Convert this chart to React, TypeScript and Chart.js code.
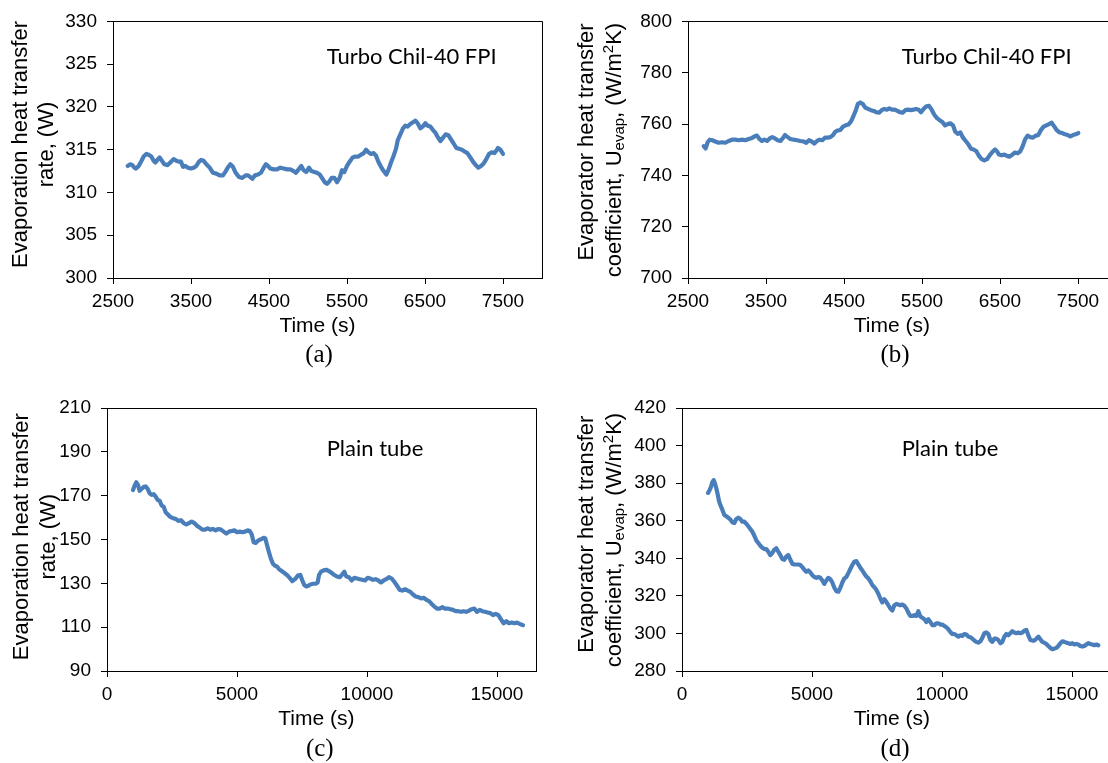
import React, { useEffect, useRef } from "react";
import { Chart, registerables } from "chart.js";

Chart.register(...registerables);

// ---------------- data ----------------
// (a) Turbo Chil-40 FPI — evaporation heat transfer rate (W)
const timeA = [
  2688, 2722, 2748, 2774, 2795, 2829, 2859, 2893, 2927, 2957,
  2991, 3021, 3043, 3077, 3098, 3128, 3158, 3201, 3244, 3278,
  3312, 3346, 3372, 3397, 3427, 3462, 3500, 3534, 3568, 3603,
  3628, 3662, 3697, 3739, 3782, 3825, 3867, 3910, 3940, 3970,
  4004, 4038, 4073, 4115, 4158, 4201, 4231, 4261, 4286, 4320,
  4359, 4397, 4432, 4461, 4487, 4517, 4560, 4603, 4645, 4688,
  4731, 4774, 4816, 4846, 4880, 4914, 4944, 4979, 5013, 5043,
  5081, 5115, 5150, 5179, 5214, 5244, 5274, 5303, 5338, 5372,
  5406, 5436, 5466, 5500, 5534, 5573, 5607, 5645, 5679, 5714,
  5744, 5774, 5808, 5842, 5872, 5902, 5936, 5970, 6004, 6034,
  6064, 6098, 6128, 6150, 6184, 6218, 6248, 6278, 6312, 6346,
  6376, 6406, 6440, 6470, 6504, 6534, 6568, 6603, 6632, 6662,
  6697, 6731, 6765, 6799, 6833, 6868, 6902, 6936, 6974, 7008,
  7043, 7081, 7115, 7150, 7184, 7218, 7252, 7286, 7320, 7355,
  7389, 7415, 7436, 7466, 7500,
];
const rateA = [
  313.1, 313.3, 313.2, 312.9, 312.8, 313.1, 313.6, 314.2, 314.5, 314.4,
  314.2, 313.7, 313.5, 313.9, 314.1, 313.7, 313.3, 313.2, 313.6, 313.9,
  313.7, 313.6, 313.6, 313.0, 313.1, 312.9, 312.8, 312.9, 313.1, 313.6,
  313.8, 313.7, 313.3, 312.9, 312.3, 312.2, 312.0, 312.0, 312.4, 312.9,
  313.3, 313.0, 312.3, 311.8, 311.7, 312.0, 312.0, 311.8, 311.6, 312.0,
  312.1, 312.3, 312.9, 313.3, 313.1, 312.8, 312.7, 312.7, 312.9, 312.8,
  312.7, 312.7, 312.5, 312.3, 312.7, 313.1, 312.6, 312.4, 312.9, 312.5,
  312.4, 312.3, 312.1, 311.7, 311.2, 311.0, 311.3, 311.7, 311.7, 311.2,
  311.7, 312.6, 312.4, 313.1, 313.6, 314.1, 314.2, 314.2, 314.4, 314.6,
  315.0, 314.7, 314.5, 314.6, 314.3, 313.6, 313.0, 312.5, 312.1, 312.7,
  313.5, 314.3, 315.1, 316.1, 316.8, 317.5, 317.8, 317.7, 318.0, 318.2,
  318.4, 318.1, 317.5, 317.7, 318.1, 317.8, 317.7, 317.3, 317.0, 316.5,
  316.0, 316.4, 316.8, 316.7, 316.2, 315.7, 315.2, 315.1, 315.0, 314.8,
  314.6, 314.1, 313.6, 313.2, 312.9, 313.1, 313.4, 313.9, 314.5, 314.7,
  314.6, 314.9, 315.2, 315.0, 314.5,
];

// (b) Turbo Chil-40 FPI — evaporator heat transfer coefficient (W/m2K)
const timeB = [
  2701, 2726, 2752, 2778, 2812, 2850, 2893, 2936, 2979, 3021,
  3064, 3107, 3150, 3192, 3235, 3278, 3321, 3355, 3385, 3415,
  3449, 3479, 3513, 3547, 3581, 3615, 3650, 3684, 3714, 3744,
  3778, 3812, 3855, 3897, 3940, 3983, 4017, 4051, 4085, 4120,
  4154, 4188, 4222, 4256, 4291, 4325, 4359, 4389, 4419, 4453,
  4487, 4521, 4556, 4590, 4624, 4654, 4679, 4709, 4739, 4773,
  4808, 4846, 4880, 4914, 4949, 4983, 5017, 5051, 5081, 5115,
  5150, 5184, 5218, 5252, 5286, 5321, 5355, 5389, 5423, 5457,
  5487, 5521, 5556, 5590, 5624, 5658, 5692, 5726, 5761, 5795,
  5829, 5863, 5897, 5927, 5957, 5991, 6026, 6060, 6094, 6128,
  6162, 6197, 6231, 6265, 6299, 6333, 6367, 6402, 6436, 6461,
  6487, 6521, 6556, 6590, 6624, 6658, 6692, 6726, 6761, 6791,
  6820, 6854, 6889, 6923, 6957, 6991, 7025, 7060, 7094, 7128,
  7162, 7197, 7231, 7265, 7299, 7333, 7368, 7402, 7436, 7470,
  7504,
];
const coefB = [
  751.4, 750.5, 752.9, 753.9, 753.7, 753.2, 752.7, 752.9, 752.7, 753.4,
  753.9, 753.9, 753.7, 753.9, 753.7, 754.2, 754.6, 755.2, 755.5, 754.2,
  753.4, 753.9, 753.4, 754.4, 754.9, 754.4, 753.7, 753.4, 754.4, 755.7,
  754.9, 754.2, 753.9, 753.7, 753.4, 753.2, 752.7, 753.7, 753.2, 752.4,
  753.4, 753.9, 753.7, 754.7, 754.7, 754.9, 755.7, 757.0, 757.5, 757.7,
  759.0, 759.5, 759.8, 761.0, 763.3, 765.6, 767.9, 768.4, 767.9, 766.4,
  765.9, 765.4, 765.1, 764.6, 764.4, 765.4, 765.9, 765.6, 766.1, 765.6,
  765.6, 765.1, 764.6, 764.4, 765.4, 765.6, 765.4, 765.6, 765.9, 765.6,
  764.6, 765.9, 766.9, 767.1, 765.6, 763.6, 762.3, 761.5, 760.8, 759.5,
  760.0, 760.3, 759.5, 757.0, 756.2, 756.7, 754.7, 753.4, 752.1, 750.4,
  750.1, 749.4, 747.6, 746.3, 745.8, 746.3, 747.8, 749.1, 750.1, 749.4,
  748.1, 747.8, 748.1, 747.6, 747.3, 748.1, 748.9, 748.6, 749.4, 751.4,
  753.9, 755.5, 754.9, 754.7, 755.5, 755.7, 757.7, 759.0, 759.5, 760.0,
  760.5, 759.0, 757.5, 756.7, 756.5, 756.0, 755.7, 755.2, 755.7, 756.0,
  756.5,
];

// (c) Plain tube — evaporation heat transfer rate (W)
const timeC = [
  1000, 1064, 1128, 1192, 1256, 1333, 1410, 1487, 1564, 1641,
  1718, 1795, 1872, 1949, 2026, 2102, 2179, 2256, 2333, 2436,
  2538, 2641, 2743, 2846, 2949, 3051, 3154, 3256, 3359, 3461,
  3564, 3667, 3769, 3872, 3974, 4077, 4179, 4282, 4384, 4487,
  4590, 4692, 4795, 4897, 5000, 5103, 5205, 5308, 5410, 5487,
  5564, 5641, 5718, 5795, 5872, 5949, 6026, 6090, 6154, 6231,
  6308, 6385, 6462, 6538, 6615, 6718, 6821, 6923, 7026, 7128,
  7231, 7333, 7436, 7513, 7590, 7667, 7744, 7821, 7923, 8026,
  8103, 8154, 8231, 8333, 8436, 8538, 8641, 8744, 8846, 8949,
  9051, 9128, 9205, 9308, 9410, 9513, 9615, 9718, 9820, 9923,
  10026, 10128, 10231, 10333, 10436, 10538, 10641, 10744, 10846, 10949,
  11051, 11154, 11256, 11359, 11462, 11564, 11667, 11769, 11872, 11974,
  12077, 12179, 12282, 12385, 12487, 12590, 12692, 12795, 12897, 13000,
  13103, 13205, 13308, 13410, 13513, 13615, 13718, 13820, 13923, 14026,
  14128, 14231, 14333, 14436, 14538, 14641, 14744, 14846, 14949, 15051,
  15154, 15256, 15359, 15462, 15564, 15667, 15769, 15872, 16000,
];
const rateC = [
  172.6, 174.6, 176.1, 174.9, 172.2, 173.1, 174.0, 174.2, 173.1, 171.1,
  170.4, 170.7, 169.6, 168.1, 167.6, 165.5, 164.9, 162.4, 161.5, 160.3,
  159.7, 159.4, 158.5, 158.8, 157.5, 156.9, 157.5, 158.2, 157.5, 156.3,
  155.4, 154.5, 154.5, 155.1, 154.5, 154.8, 154.2, 154.8, 154.5, 153.6,
  152.7, 153.6, 153.9, 154.2, 153.3, 153.6, 153.3, 153.6, 154.2, 153.9,
  152.4, 148.7, 148.4, 149.3, 149.9, 150.2, 150.8, 150.5, 147.5, 144.1,
  141.1, 138.9, 138.0, 137.7, 136.5, 135.6, 134.7, 133.8, 132.5, 131.0,
  131.9, 133.5, 133.8, 131.3, 129.2, 128.6, 128.9, 129.5, 129.8, 129.8,
  130.4, 133.8, 135.3, 135.9, 136.2, 135.6, 134.7, 133.8, 133.1, 132.8,
  134.1, 135.3, 133.1, 132.8, 131.3, 132.5, 132.2, 131.9, 131.6, 131.3,
  132.5, 132.2, 131.6, 131.9, 131.3, 130.4, 131.3, 131.9, 132.8, 132.2,
  130.7, 128.9, 127.0, 126.7, 127.3, 126.7, 126.1, 124.9, 124.0, 123.7,
  123.1, 123.4, 122.5, 121.9, 120.6, 119.4, 118.5, 118.5, 119.1, 118.5,
  118.5, 118.2, 117.9, 117.3, 117.3, 117.0, 117.3, 117.0, 117.6, 118.2,
  118.5, 117.0, 117.9, 117.3, 117.0, 116.7, 116.4, 115.5, 116.1, 115.5,
  113.6, 111.8, 112.7, 111.8, 112.1, 111.8, 112.1, 111.5, 110.9,
];

// (d) Plain tube — evaporator heat transfer coefficient (W/m2K)
const timeD = [
  1000, 1064, 1115, 1167, 1218, 1269, 1320, 1372, 1423, 1474,
  1551, 1628, 1705, 1782, 1859, 1936, 2013, 2090, 2167, 2244,
  2320, 2397, 2474, 2551, 2628, 2705, 2782, 2859, 2936, 3013,
  3090, 3167, 3243, 3320, 3397, 3474, 3551, 3628, 3705, 3782,
  3859, 3936, 4013, 4090, 4167, 4243, 4320, 4397, 4474, 4551,
  4628, 4705, 4782, 4859, 4936, 5013, 5090, 5167, 5243, 5320,
  5397, 5474, 5551, 5628, 5705, 5782, 5859, 5936, 6013, 6090,
  6167, 6243, 6320, 6397, 6474, 6551, 6628, 6705, 6782, 6859,
  6936, 7013, 7090, 7167, 7243, 7320, 7397, 7474, 7551, 7628,
  7705, 7782, 7859, 7936, 8013, 8090, 8167, 8244, 8320, 8397,
  8474, 8551, 8628, 8705, 8782, 8859, 8936, 9013, 9090, 9167,
  9244, 9320, 9397, 9474, 9551, 9628, 9705, 9782, 9859, 9936,
  10013, 10090, 10167, 10244, 10320, 10397, 10474, 10551, 10628, 10705,
  10782, 10859, 10936, 11013, 11090, 11167, 11244, 11321, 11397, 11474,
  11551, 11628, 11705, 11782, 11859, 11936, 12013, 12090, 12167, 12244,
  12321, 12397, 12474, 12551, 12628, 12705, 12782, 12859, 12936, 13013,
  13090, 13167, 13244, 13321, 13398, 13474, 13551, 13628, 13705, 13782,
  13859, 13936, 14013, 14090, 14167, 14244, 14321, 14398, 14474, 14551,
  14628, 14705, 14782, 14859, 14936, 15013, 15090, 15167, 15244, 15321,
  15398, 15474, 15551, 15628, 15705, 15782, 15859, 15936, 16013,
];
const coefD = [
  374.8, 376.4, 378.0, 380.5, 381.6, 379.8, 377.3, 374.1, 370.5, 368.4,
  365.9, 363.1, 362.4, 361.6, 360.6, 359.2, 358.8, 360.9, 361.6, 360.9,
  359.5, 359.5, 358.4, 357.0, 355.6, 354.2, 352.0, 349.5, 348.1, 346.7,
  345.6, 344.9, 344.9, 343.5, 341.7, 342.8, 344.6, 345.3, 343.5, 341.7,
  339.6, 339.2, 341.0, 341.7, 339.2, 337.1, 336.7, 336.7, 336.7, 336.4,
  335.3, 333.9, 332.8, 333.5, 332.5, 331.0, 330.0, 329.6, 330.0, 329.6,
  328.2, 326.4, 328.2, 329.6, 328.9, 327.1, 324.3, 322.5, 322.2, 324.3,
  327.1, 329.3, 330.0, 332.1, 334.3, 336.4, 338.2, 338.5, 336.7, 335.0,
  333.5, 331.8, 330.3, 329.3, 327.8, 325.7, 324.6, 323.2, 321.1, 318.6,
  316.5, 318.2, 316.8, 315.0, 313.3, 312.2, 315.0, 315.7, 315.4, 315.0,
  315.4, 314.7, 313.3, 311.1, 309.3, 309.3, 309.7, 309.3, 311.8, 309.0,
  308.3, 307.6, 306.1, 307.6, 306.1, 304.4, 304.4, 305.4, 305.4, 304.7,
  304.7, 304.0, 303.3, 302.2, 300.8, 299.7, 299.7, 299.0, 298.3, 299.0,
  298.7, 299.7, 299.4, 298.3, 298.0, 297.2, 296.2, 295.5, 295.1, 295.8,
  297.6, 300.1, 300.5, 299.7, 296.5, 295.5, 297.2, 297.2, 296.5, 294.8,
  295.5, 298.3, 299.7, 299.0, 300.1, 301.2, 300.5, 300.1, 300.5, 300.1,
  300.5, 301.5, 301.9, 299.0, 296.5, 296.2, 296.2, 297.2, 298.3, 296.9,
  295.5, 295.1, 294.4, 293.3, 292.3, 291.6, 291.9, 292.3, 293.3, 294.8,
  295.8, 295.5, 295.1, 294.8, 294.4, 294.8, 294.1, 294.4, 294.1, 293.3,
  293.0, 293.3, 294.1, 294.8, 294.4, 294.1, 293.7, 294.1, 293.7,
];

// tick labels
const xTicksTurbo = [2500, 3500, 4500, 5500, 6500, 7500];
const xTicksPlain = [0, 5000, 10000, 15000];
const yTicksA = [300, 305, 310, 315, 320, 325, 330];
const yTicksB = [700, 720, 740, 760, 780, 800];
const yTicksC = [90, 110, 130, 150, 170, 190, 210];
const yTicksD = [280, 300, 320, 340, 360, 380, 400, 420];

// texts
const xTitleText = "Time (s)";
type Seg = { t: string; s?: "sub" | "sup" };
const rateTitle: Seg[][] = [[{ t: "Evaporation heat transfer" }], [{ t: "rate, (W)" }]];
const coefTitle: Seg[][] = [
  [{ t: "Evaporator heat transfer" }],
  [{ t: "coefficient, U" }, { t: "evap", s: "sub" }, { t: ", (W/m" }, { t: "2", s: "sup" }, { t: "K)" }],
];
const noteTurbo = "Turbo Chil-40 FPI";
const notePlain = "Plain tube";

// ---------------- styles / layout ----------------
const LINE_COLOR = "#4a7ebb";
const SANS = '"Liberation Sans", Arial, sans-serif';
const SERIF = '"Liberation Serif", "Times New Roman", serif';
const NOTE_FONT = 'Lato, "Open Sans", sans-serif';

type PanelDef = {
  time: number[];
  values: number[];
  xMin: number;
  xMax: number;
  xTicks: number[];
  yMin: number;
  yMax: number;
  yTicks: number[];
  yTitle: Seg[][];
  note: string;
  caption: string;
  box: { left: number; top: number; width: number; height: number };
  area: { left: number; top: number; right: number; bottom: number };
  yTitleBase: number[];
  yTitleCenter: number[];
  xTitlePos: { x: number; y: number };
  captionPos: { x: number; y: number };
  notePos: { x: number; y: number };
};

const panels: PanelDef[] = [
  {
    time: timeA, values: rateA, xMin: 2500, xMax: 8000, xTicks: xTicksTurbo,
    yMin: 300, yMax: 330, yTicks: yTicksA, yTitle: rateTitle, note: noteTurbo, caption: "(a)",
    box: { left: 0, top: 0, width: 554, height: 380 },
    area: { left: 113, top: 16, right: 542, bottom: 278 },
    yTitleBase: [26.5, 53.2], yTitleCenter: [144.5, 144.5],
    xTitlePos: { x: 317.5, y: 331.7 }, captionPos: { x: 319, y: 362 }, notePos: { x: 326.7, y: 64 },
  },
  {
    time: timeB, values: coefB, xMin: 2500, xMax: 8000, xTicks: xTicksTurbo,
    yMin: 700, yMax: 800, yTicks: yTicksB, yTitle: coefTitle, note: noteTurbo, caption: "(b)",
    box: { left: 554, top: 0, width: 574, height: 380 },
    area: { left: 688, top: 16, right: 1117, bottom: 278 },
    yTitleBase: [592.8, 620.5], yTitleCenter: [142, 150],
    xTitlePos: { x: 891.8, y: 331.7 }, captionPos: { x: 895, y: 362 }, notePos: { x: 901.7, y: 64 },
  },
  {
    time: timeC, values: rateC, xMin: 0, xMax: 16500, xTicks: xTicksPlain,
    yMin: 90, yMax: 210, yTicks: yTicksC, yTitle: rateTitle, note: notePlain, caption: "(c)",
    box: { left: 0, top: 380, width: 554, height: 383 },
    area: { left: 107, top: 408, right: 536, bottom: 671 },
    yTitleBase: [27.8, 55], yTitleCenter: [536.7, 536.7],
    xTitlePos: { x: 316.3, y: 725 }, captionPos: { x: 319.8, y: 755.5 }, notePos: { x: 326.7, y: 456 },
  },
  {
    time: timeD, values: coefD, xMin: 0, xMax: 16500, xTicks: xTicksPlain,
    yMin: 280, yMax: 420, yTicks: yTicksD, yTitle: coefTitle, note: notePlain, caption: "(d)",
    box: { left: 554, top: 380, width: 574, height: 383 },
    area: { left: 682, top: 408, right: 1111, bottom: 671 },
    yTitleBase: [592.8, 620.5], yTitleCenter: [534.2, 540],
    xTitlePos: { x: 891.8, y: 725 }, captionPos: { x: 895, y: 755.5 }, notePos: { x: 901.7, y: 456 },
  },
];

function buildConfig(p: PanelDef): any {
  const W = p.box.width;
  const H = p.box.height;
  const aLeft = p.area.left - p.box.left;
  const aTop = p.area.top - p.box.top;
  const aRight = p.area.right - p.box.left;
  const aBottom = p.area.bottom - p.box.top;

  const framePlugin = {
    id: "frame",
    afterDraw(chart: any) {
      const { ctx, chartArea } = chart;
      ctx.save();
      ctx.strokeStyle = "#000";
      ctx.lineWidth = 1;
      ctx.beginPath();
      ctx.moveTo(Math.round(chartArea.left) + 0.5, Math.round(chartArea.top) + 0.5);
      ctx.lineTo(Math.round(chartArea.right) + 0.5, Math.round(chartArea.top) + 0.5);
      ctx.lineTo(Math.round(chartArea.right) + 0.5, Math.round(chartArea.bottom) + 0.5);
      ctx.stroke();
      ctx.restore();
    },
  };

  const textPlugin = {
    id: "texts",
    afterDraw(chart: any) {
      const ctx = chart.ctx as CanvasRenderingContext2D;
      const ox = p.box.left;
      const oy = p.box.top;
      ctx.save();
      ctx.fillStyle = "#000";
      ctx.textBaseline = "alphabetic";
      ctx.textAlign = "left";
      // y-axis title (rotated, with sub/superscripts)
      const base = 22;
      const fontOf = (s: Seg) => `${s.s ? Math.round(base * 0.66) : base}px ${SANS}`;
      p.yTitle.forEach((segs, i) => {
        let total = 0;
        const widths = segs.map((s) => {
          ctx.font = fontOf(s);
          const w = ctx.measureText(s.t).width;
          total += w;
          return w;
        });
        ctx.save();
        ctx.translate(p.yTitleBase[i] - ox, p.yTitleCenter[i] - oy);
        ctx.rotate(-Math.PI / 2);
        let x = -total / 2;
        segs.forEach((s, k) => {
          ctx.font = fontOf(s);
          const dy = s.s === "sub" ? 3.5 : s.s === "sup" ? -8 : 0;
          ctx.fillText(s.t, x, dy);
          x += widths[k];
        });
        ctx.restore();
      });
      // x-axis title
      ctx.textAlign = "center";
      ctx.font = `21px ${SANS}`;
      ctx.fillText(xTitleText, p.xTitlePos.x - ox, p.xTitlePos.y - oy);
      // caption
      ctx.font = `25px ${SERIF}`;
      ctx.fillText(p.caption, p.captionPos.x - ox, p.captionPos.y - oy);
      // annotation
      ctx.textAlign = "left";
      ctx.font = `22px ${NOTE_FONT}`;
      ctx.fillText(p.note, p.notePos.x - ox, p.notePos.y - oy);
      ctx.restore();
    },
  };

  const tickFont = { family: SANS, size: 19 };

  return {
    type: "line",
    data: {
      datasets: [
        {
          data: p.time.map((t, i) => ({ x: t, y: p.values[i] })),
          borderColor: LINE_COLOR,
          backgroundColor: LINE_COLOR,
          borderWidth: 4.2,
          pointRadius: 0,
          tension: 0,
          fill: false,
          borderJoinStyle: "round",
          borderCapStyle: "round",
        },
      ],
    },
    options: {
      animation: false,
      responsive: false,
      maintainAspectRatio: false,
      devicePixelRatio: 1,
      parsing: false,
      normalized: true,
      layout: { padding: { left: 0, top: aTop, right: W - aRight, bottom: 0 } },
      plugins: { legend: { display: false }, tooltip: { enabled: false }, title: { display: false } },
      scales: {
        x: {
          type: "linear",
          min: p.xMin,
          max: p.xMax,
          afterBuildTicks: (s: any) => {
            s.ticks = p.xTicks.map((v) => ({ value: v }));
          },
          afterFit: (s: any) => {
            s.height = H - aBottom;
          },
          grid: { display: true, drawOnChartArea: false, drawTicks: true, tickLength: 6, color: "#000", lineWidth: 1 },
          border: { display: true, color: "#000", width: 1 },
          ticks: {
            color: "#000",
            font: tickFont,
            padding: 6,
            maxRotation: 0,
            minRotation: 0,
            autoSkip: false,
            callback: (v: any) => String(v),
          },
          title: { display: false },
        },
        y: {
          type: "linear",
          min: p.yMin,
          max: p.yMax,
          afterBuildTicks: (s: any) => {
            s.ticks = p.yTicks.map((v) => ({ value: v }));
          },
          afterFit: (s: any) => {
            s.width = aLeft;
          },
          grid: { display: true, drawOnChartArea: false, drawTicks: true, tickLength: 6, color: "#000", lineWidth: 1 },
          border: { display: true, color: "#000", width: 1 },
          ticks: {
            color: "#000",
            font: tickFont,
            padding: 10,
            autoSkip: false,
            callback: (v: any) => String(v),
          },
          title: { display: false },
        },
      },
    },
    plugins: [framePlugin, textPlugin],
  };
}

function Panel({ p }: { p: PanelDef }) {
  const ref = useRef<HTMLCanvasElement | null>(null);
  useEffect(() => {
    let chart: Chart | null = null;
    let cancelled = false;
    const make = () => {
      if (cancelled || !ref.current) return;
      chart = new Chart(ref.current, buildConfig(p));
    };
    const fonts: any = (document as any).fonts;
    if (fonts && fonts.load) {
      Promise.all([
        fonts.load(`22px ${SANS}`),
        fonts.load(`22px ${NOTE_FONT}`),
        fonts.load(`25px ${SERIF}`),
      ]).then(make, make);
    } else {
      make();
    }
    return () => {
      cancelled = true;
      if (chart) chart.destroy();
    };
  }, [p]);
  return (
    <canvas
      ref={ref}
      width={p.box.width}
      height={p.box.height}
      style={{
        position: "absolute",
        left: p.box.left,
        top: p.box.top,
        width: p.box.width,
        height: p.box.height,
        display: "block",
      }}
    />
  );
}

export default function App() {
  return (
    <div
      style={{
        position: "absolute",
        left: 0,
        top: 0,
        width: 1108,
        height: 763,
        overflow: "hidden",
        background: "#fff",
      }}
    >
      {panels.map((p, i) => (
        <Panel key={i} p={p} />
      ))}
    </div>
  );
}
